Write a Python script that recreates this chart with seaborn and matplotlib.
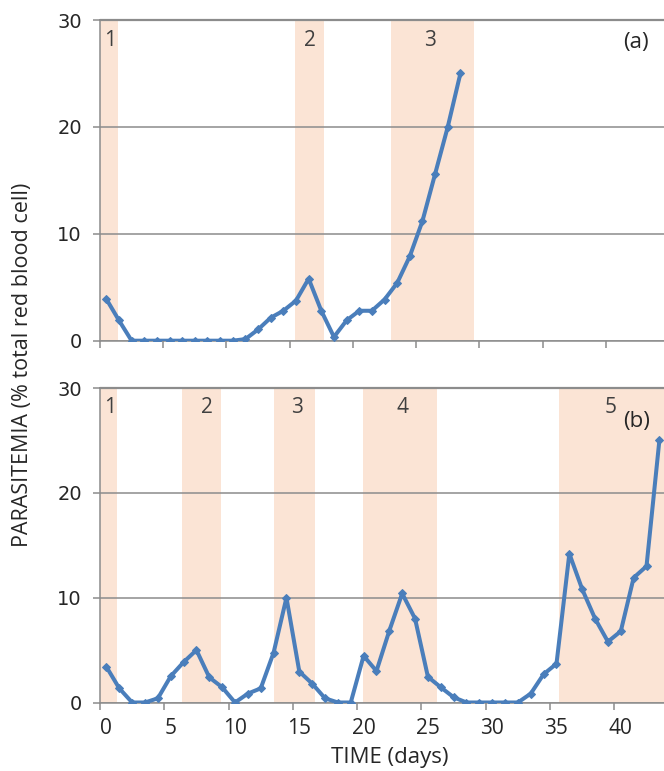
"""
Parasitemia ao longo do tempo, dois painéis (a) e (b), com faixas de tratamento.
Saída: out.png
"""

import matplotlib.pyplot as plt
import pandas as pd
import seaborn as sns

# ---------------------------------------------------------------------------
# Dados
# ---------------------------------------------------------------------------
days_a = list(range(29))
para_a = [3.9, 1.9, 0, 0, 0, 0, 0, 0, 0, 0, 0, 0.15, 1.05, 2.15, 2.8,
          3.75, 5.8, 2.8, 0.35, 1.9, 2.8, 2.8, 3.85, 5.4, 7.9, 11.2, 15.6,
          20.0, 25.0]

days_b = list(range(44))
para_b = [3.4, 1.35, 0, 0, 0.4, 2.5, 3.85, 5.0, 2.4, 1.45, 0, 0.85, 1.35,
          4.75, 10.0, 2.95, 1.8, 0.4, 0, 0, 4.45, 3.0, 6.85, 10.4, 8.0, 2.45,
          1.45, 0.5, 0, 0, 0, 0, 0, 0.85, 2.7, 3.7, 14.2, 10.8, 8.0, 5.8, 6.8,
          11.9, 13.0, 25.0]

# faixas sombreadas (início, fim) em dias, e rótulos
bands_a = [(-0.5, 0.95), (14.95, 17.2), (22.55, 29.1)]
band_labels_a = ["1", "2", "3"]
band_label_x_a = [0.26, 16.1, 25.6]

bands_b = [(-0.5, 0.85), (5.9, 8.9), (13.0, 16.2), (19.95, 25.7), (35.2, 50)]
band_labels_b = ["1", "2", "3", "4", "5"]
band_label_x_b = [0.3, 7.8, 14.8, 23.0, 39.2]

y_ticks = [0, 10, 20, 30]
x_ticks = [0, 5, 10, 15, 20, 25, 30, 35, 40]

df_a = pd.DataFrame({"dia": days_a, "parasitemia": para_a})
df_b = pd.DataFrame({"dia": days_b, "parasitemia": para_b})

# ---------------------------------------------------------------------------
# Estilo
# ---------------------------------------------------------------------------
sns.set_style("white")
plt.rcParams["font.family"] = ["Open Sans", "DejaVu Sans"]

LINE = "#4A7EBB"
BAND = "#FBE4D5"
GRID = "#8C8C8C"
TXT = "#262626"

fig = plt.figure(figsize=(6.64, 7.71), dpi=100)
ax_a = fig.add_axes([100 / 664, 1 - 340.7 / 771, 1 - 100 / 664, 320.7 / 771])
ax_b = fig.add_axes([100 / 664, 1 - 702.5 / 771, 1 - 100 / 664, 314.5 / 771])


def style_panel(ax, df, bands, labels, label_x, tag, tag_xy, xmax, show_xlabels):
    for (x0, x1) in bands:
        ax.axvspan(x0, x1, color=BAND, lw=0, zorder=0)
    for lab, lx in zip(labels, label_x):
        ax.text(lx, 28.1, lab, ha="center", va="center", fontsize=15,
                color="#404040", zorder=3)
    ax.text(tag_xy[0], tag_xy[1], tag, ha="center", va="center",
            fontsize=16, color=TXT, zorder=3)

    sns.lineplot(data=df, x="dia", y="parasitemia", ax=ax, color=LINE,
                 linewidth=2.9, marker="D", markersize=4.5,
                 markeredgecolor=LINE, zorder=4)

    ax.set_xlim(-0.5, xmax)
    ax.set_ylim(0, 30)
    ax.set_yticks(y_ticks)
    ax.yaxis.grid(True, color=GRID, linewidth=1.1, zorder=1)
    ax.set_axisbelow(False)
    for sp in ["top", "right"]:
        ax.spines[sp].set_visible(False)
    for sp in ["left", "bottom"]:
        ax.spines[sp].set_color(GRID)
        ax.spines[sp].set_linewidth(1.1)
    # linha superior em 30 (gridline)
    ax.axhline(30, color=GRID, linewidth=1.6, zorder=1, clip_on=False)

    # marcas entre categorias, rótulos nas categorias
    ax.set_xticks([t - 0.5 for t in x_ticks])
    ax.set_xticklabels([])
    ax.set_xticks(x_ticks, minor=True)
    if show_xlabels:
        ax.set_xticklabels([str(t) for t in x_ticks], minor=True)
    else:
        ax.set_xticklabels([], minor=True)
    ax.tick_params(axis="x", which="major", length=5, width=1.1, color=GRID,
                   direction="out", bottom=True)
    ax.tick_params(axis="x", which="minor", length=0, pad=11,
                   labelsize=15, labelcolor=TXT)
    ax.tick_params(axis="y", length=5, width=1.1, color=GRID, left=True,
                   direction="out", pad=8, labelsize=14, labelcolor=TXT)
    for lab in ax.get_yticklabels():
        lab.set_family(["DejaVu Sans"])
    ax.set_xlabel("")
    ax.set_ylabel("")


style_panel(ax_a, df_a, bands_a, band_labels_a, band_label_x_a,
            "(a)", (41.85, 27.85), 44.1, False)
style_panel(ax_b, df_b, bands_b, band_labels_b, band_label_x_b,
            "(b)", (41.2, 26.8), 43.36, True)

ax_b.set_xlabel("TIME (days)", fontsize=16, color=TXT)
ax_b.xaxis.set_label_coords((390 - 100) / 564, -(757 - 702.5) / 314.5)
ax_b.xaxis.label.set_va("center")
fig.text(23 / 664, 1 - 365 / 771, "PARASITEMIA (% total red blood cell)",
         rotation=90, ha="center", va="center", fontsize=15.5, color=TXT)

fig.savefig("out.png", dpi=100)
plt.close(fig)
